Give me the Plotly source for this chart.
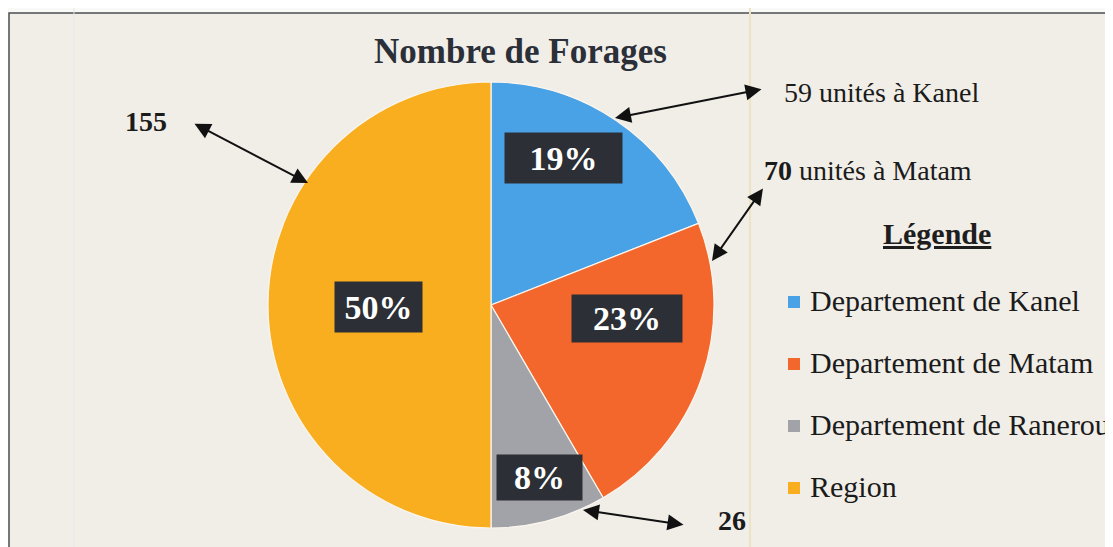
import plotly.graph_objects as go

# données du graphique
labels = ["Departement de Kanel", "Departement de Matam", "Departement de Ranerou", "Region"]
values = [59, 70, 26, 155]
colors = ["#4aa2e6", "#f3672d", "#a2a3a9", "#f9ae20"]
callouts = ["59 unités à Kanel", "<b>70</b> unités à Matam", "<b>26</b>", "<b>155</b>"]
title = "Nombre de Forages"
legend_title = "Légende"

W, H = 1113, 547
OFF = 8  # marge par défaut du <body> de la page html
cx, cy, r = 491, 305, 223
serif = "Liberation Serif, Times New Roman, serif"

total = sum(values)
pcts = [f"{round(v / total * 100)}%" for v in values]

# placement des étiquettes (pixels) : centre x, centre y, largeur, hauteur
pct_boxes = [(563, 158, 117, 50), (627, 318, 110, 47), (539, 477, 85, 45), (378, 307, 87, 50)]
# flèches : pointe 1 (sur le camembert) -> pointe 2 (vers le texte)
arrows = [(615, 118, 763, 89), (712, 261, 764, 187), (583, 510, 685, 525), (308, 183, 193, 123)]
# position des textes d'appel
callout_pos = [(782, 92, "left"), (762, 170, "left"), (732, 520, "center"), (146, 121, "center")]
legend_rows = [300, 362, 424, 486]

fig = go.Figure()

# axes invisibles en pixels pour placer annotations et formes
fig.add_trace(go.Scatter(x=[], y=[], showlegend=False, hoverinfo="skip"))

fig.add_trace(go.Pie(
    labels=labels,
    values=values,
    marker=dict(colors=colors, line=dict(color="#fbf6ee", width=1.2)),
    sort=False,
    direction="clockwise",
    rotation=0,
    textinfo="none",
    showlegend=False,
    domain=dict(x=[(cx - OFF - r) / W, (cx - OFF + r) / W],
                y=[1 - (cy - OFF + r) / H, 1 - (cy - OFF - r) / H]),
))

shapes = [
    dict(type="rect", xref="x", yref="y", x0=9, y0=13, x1=W + 40, y1=H + 40,
         line=dict(color="#4b4d52", width=1.5), fillcolor="#f1eee8", layer="below"),
    dict(type="line", xref="x", yref="y", x0=750, y0=0, x1=750, y1=H + 10,
         line=dict(color="#ece2c4", width=2), layer="below"),
    dict(type="line", xref="x", yref="y", x0=74, y0=0, x1=74, y1=H + 10,
         line=dict(color="#e6e6ec", width=1), layer="below"),
]

annotations = [
    dict(text=f"<b>{title}</b>", x=520, y=51, xref="x", yref="y", showarrow=False,
         font=dict(family=serif, size=35, color="#2b2f38")),
    dict(text=f"<b><u>{legend_title}</u></b>", x=937, y=233, xref="x", yref="y", showarrow=False,
         font=dict(family=serif, size=30, color="#1e1e1e")),
]

for pct, (bx, by, bw, bh) in zip(pcts, pct_boxes):
    annotations.append(dict(
        text=f"<b>{pct}</b>", x=bx, y=by, xref="x", yref="y", showarrow=False,
        width=bw, height=bh, bgcolor="#2c2f35", borderpad=0, valign="middle",
        font=dict(family=serif, size=34, color="white"),
    ))

for (x1, y1, x2, y2) in arrows:
    annotations.append(dict(
        text="", x=x1, y=y1, ax=x2, ay=y2, xref="x", yref="y", axref="x", ayref="y",
        showarrow=True, arrowside="end+start", arrowhead=2, startarrowhead=2,
        arrowsize=1.6, startarrowsize=1.6, arrowwidth=2, arrowcolor="#111111",
        standoff=0, startstandoff=0,
    ))

for txt, (tx, ty, anchor) in zip(callouts, callout_pos):
    annotations.append(dict(
        text=txt, x=tx, y=ty, xref="x", yref="y", xanchor=anchor, showarrow=False,
        font=dict(family=serif, size=28, color="#1b1b1b"),
    ))

# légende dessinée à la main (carrés + libellés)
for lab, col, ry in zip(labels, colors, legend_rows):
    shapes.append(dict(type="rect", xref="x", yref="y", x0=788, x1=800, y0=ry - 4, y1=ry + 8,
                       fillcolor=col, line=dict(width=0)))
    annotations.append(dict(
        text=lab, x=808, y=ry, xref="x", yref="y", xanchor="left", showarrow=False,
        font=dict(family=serif, size=30, color="#1b1b1b"),
    ))

fig.update_layout(
    width=W, height=H,
    margin=dict(l=0, r=0, t=0, b=0),
    paper_bgcolor="#f9f9f7",
    plot_bgcolor="rgba(0,0,0,0)",
    xaxis=dict(range=[OFF, W + OFF], visible=False, domain=[0, 1], fixedrange=True),
    yaxis=dict(range=[H + OFF, OFF], visible=False, domain=[0, 1], fixedrange=True),
    shapes=shapes,
    annotations=annotations,
)

fig.write_html("out.html")
